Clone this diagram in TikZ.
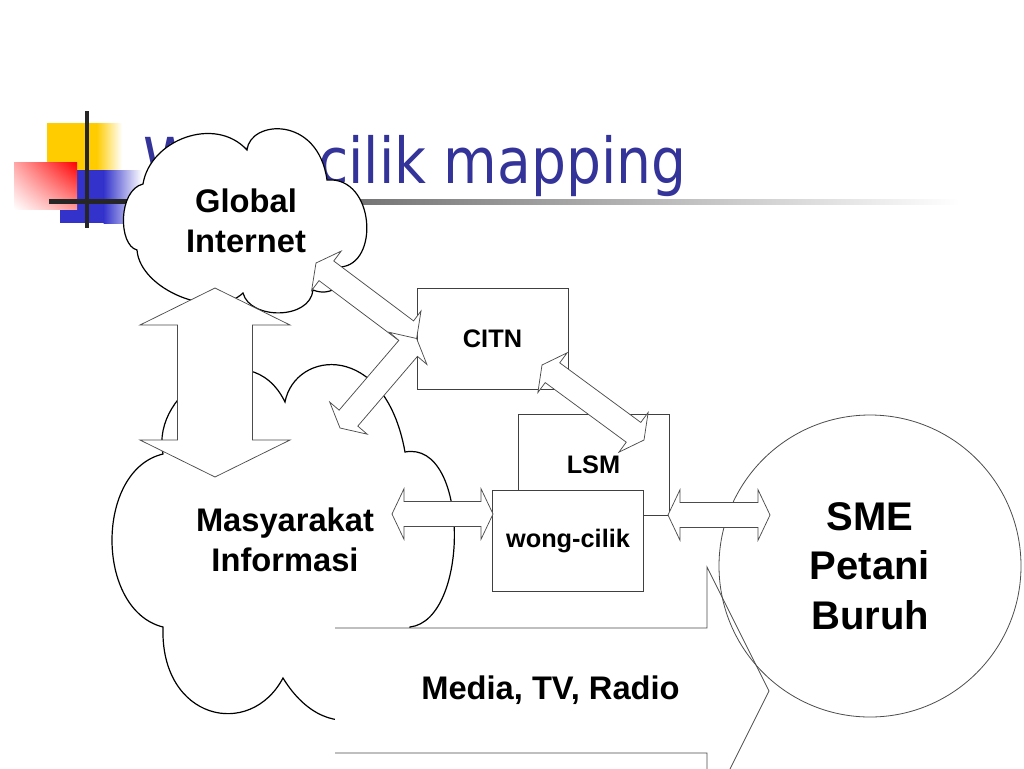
\documentclass[tikz,border=0pt]{standalone}
\usepackage{fontspec}
\setmainfont{Liberation Sans}
\newfontfamily\titlefont[FakeStretch=0.87]{DejaVu Sans}
\usetikzlibrary{calc,shadings}
\definecolor{titleblue}{RGB}{51,51,153}
\definecolor{decoyellow}{RGB}{255,204,0}
\definecolor{decoblue}{RGB}{51,51,204}
% double arrow between two tips: #1 prefix, #2 tip A, #3 tip B, #4 head length, #5 head half width, #6 shaft half width
\newcommand\dblarrow[6]{%
  \coordinate (#1p) at ($(#2)!#4!(#3)$);
  \coordinate (#1q) at ($(#3)!#4!(#2)$);
  \draw[arr] (#2) -- ($(#1p)!#5!90:(#3)$) -- ($(#1p)!#6!90:(#3)$)
    -- ($(#1q)!#6!-90:(#2)$) -- ($(#1q)!#5!-90:(#2)$) -- (#3)
    -- ($(#1q)!#5!90:(#2)$) -- ($(#1q)!#6!90:(#2)$)
    -- ($(#1p)!#6!-90:(#3)$) -- ($(#1p)!#5!-90:(#3)$) -- cycle;}
\begin{document}
\begin{tikzpicture}[x=0.75pt,y=-0.75pt,
  box/.style={draw=black!75, line width=0.6pt, fill=white, rectangle,
    minimum width=113.25pt, minimum height=75.75pt, inner sep=0pt,
    font=\fontsize{19}{22}\selectfont\bfseries},
  arr/.style={draw=black!70, line width=0.55pt, fill=white, line join=miter},
  cloudline/.style={draw=black, line width=0.9pt, fill=white},
  big/.style={font=\fontsize{24.5}{30}\selectfont\bfseries, align=center, inner sep=0pt}]
\useasboundingbox (0,0) rectangle (1024,768);
\clip (0,0) rectangle (1024,768);
\fill[white] (0,0) rectangle (1024,768);

% slide decoration
\fill[decoyellow] (47,123) rectangle (97,172);
\shade[left color=decoyellow, right color=white] (96.5,123) rectangle (122,172);
\fill[decoblue] (60,170) rectangle (104,223);
\shade[left color=decoblue, right color=white] (103.5,170) rectangle (142,223);
\shade[upper right=red, upper left=red!35, lower right=red!40, lower left=white] (14,162) rectangle (77,209);
\shade[left color=black!75, right color=white] (130,199) rectangle (960,204);
\fill[black!85] (49,199) rectangle (132,204);
\fill[black!85] (85,111) rectangle (89,228);

% title
\node[anchor=base west, text=titleblue, inner sep=0pt,
  font=\titlefont\fontsize{47.5}{52}\selectfont] (title) at (143,183) {Wong-cilik mapping};

% Global Internet cloud
\path[cloudline] (143,184) .. controls (150,140) and (215,115) .. (247,150)
  .. controls (250,120) and (318,115) .. (327,180)
  .. controls (375,176) and (380,265) .. (340,267)
  .. controls (348,285) and (330,297) .. (313,290)
  .. controls (310,320) and (250,320) .. (243,293)
  .. controls (215,320) and (140,290) .. (137,250)
  .. controls (118,245) and (118,190) .. (143,184) -- cycle;
\node[big] (gi) at (246,221) {Global\\Internet};

% Masyarakat Informasi cloud
\path[cloudline] (163,454) .. controls (150,390) and (250,330) .. (285,402)
  .. controls (295,350) and (385,340) .. (405,452)
  .. controls (470,440) and (470,620) .. (410,627)
  .. controls (410,720) and (330,755) .. (283,678)
  .. controls (250,740) and (160,720) .. (163,627)
  .. controls (95,610) and (95,470) .. (163,454) -- cycle;
\node[big] (mi) at (285,540) {Masyarakat\\Informasi};

% vertical double arrow
\coordinate (vaA) at (215,288);
\coordinate (vaB) at (215,477);
\dblarrow{va}{vaA}{vaB}{27.75pt}{56.25pt}{28.1pt}

% CITN and its arrows
\node[box] (citn) at (492.5,338.5) {CITN};
\coordinate (aoneA) at (316,263);
\dblarrow{aone}{aoneA}{citn.west}{9.75pt}{18.5pt}{9.2pt}
\coordinate (atwoA) at (340,428);
\dblarrow{atwo}{atwoA}{citn.west}{9.75pt}{18.5pt}{9.2pt}

% LSM, wong-cilik
\node[box] (lsm) at (593.5,464.5) {LSM};
\node[box] (wc) at (568,540.5) {wong-cilik};
\coordinate (athrA) at (542,365);
\coordinate (athrB) at (644,440);
\dblarrow{athr}{athrA}{athrB}{9.75pt}{18.5pt}{9.2pt}

% Media arrow
\coordinate (mA) at (335,628);
\coordinate (mB) at (707,628);
\coordinate (mC) at (707,567);
\coordinate (mT) at (769,691);
\coordinate (mD) at (707,815);
\coordinate (mE) at (707,753);
\coordinate (mF) at (335,753);
\fill[white] (mA) -- (mB) -- (mC) -- (mT) -- (mD) -- (mE) -- (mF) -- cycle;
\draw[draw=black!70, line width=0.55pt] (mA) -- (mB) -- (mC) -- (mT) -- (mD) -- (mE) -- (mF);
\node[big] (media) at (550.5,690) {Media, TV, Radio};

% SME circle
\node[circle, draw=black!70, line width=0.6pt, minimum size=226.5pt, inner sep=0pt,
  font=\fontsize{30}{37}\selectfont\bfseries, align=center] (sme) at (870,566) {SME\\Petani\\Buruh};

% horizontal double arrows
\coordinate (honeA) at (392,514);
\coordinate (honeB) at (493,514);
\dblarrow{hone}{honeA}{honeB}{9pt}{19pt}{9.4pt}
\coordinate (htwoA) at (668,515);
\coordinate (htwoB) at (770,515);
\dblarrow{htwo}{htwoA}{htwoB}{9pt}{19pt}{9.4pt}
\end{tikzpicture}
\end{document}
